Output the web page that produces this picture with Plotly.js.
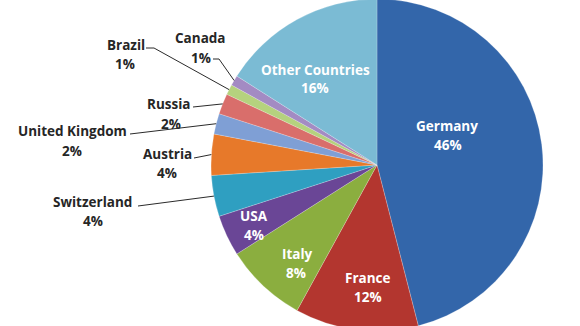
<!DOCTYPE html>
<html>
<head>
<meta charset="utf-8">
<script src="https://cdn.plot.ly/plotly-3.0.1.min.js"></script>
<style>
html,body{margin:0;padding:0;overflow:hidden;background:#fff;width:580px;height:326px;}
#chart{position:absolute;left:0;top:-1px;width:580px;height:332px;}
</style>
</head>
<body>
<div id="chart"></div>
<script>
// ---- data ----
const countries = ["Germany","France","Italy","USA","Switzerland","Austria","United Kingdom","Russia","Brazil","Canada","Other Countries"];
const shares = [46, 12, 8, 4, 4, 4, 2, 2, 1, 1, 16];
const sliceColors = ["#3366aa","#b3362f","#8bae3f","#6a4696","#2f9fc1","#e7792a","#7f9fd5","#d96e6b","#b5d27e","#a38bc3","#7bbbd4"];

// ---- layout helpers (page pixels -> paper) ----
const W = 580, H = 332, TOP = -1;
const CX = 377, CY = 165, R = 166;
const px = x => x / W;
const py = y => 1 - (y - TOP) / H;

// label placement (page px): name center, pct center, inside?
const labelPos = {
  "Germany":        {n:[447,126], p:[448,145], inside:true},
  "France":         {n:[368,278], p:[368,297], inside:true},
  "Italy":          {n:[297,254], p:[296,273], inside:true},
  "USA":            {n:[254,216], p:[254,235], inside:true},
  "Other Countries":{n:[315,70],  p:[315,88],  inside:true},
  "Switzerland":    {n:[93,202],  p:[93,221],  lead:[[138,206]]},
  "Austria":        {n:[167,154], p:[167,173], lead:[[194,158]]},
  "United Kingdom": {n:[72,131],  p:[72,151],  lead:[[130,134]]},
  "Russia":         {n:[168,104], p:[171,124], lead:[[193,107]]},
  "Brazil":         {n:[126,45],  p:[125,64],  lead:[[146,48],[154,48]]},
  "Canada":         {n:[200,38],  p:[201,58],  lead:[[213,59],[219,59]]}
};

const total = shares.reduce((a,b)=>a+b,0);
const annotations = [];
const shapes = [];
let cum = 0;
countries.forEach((c,i)=>{
  const mid = (cum + shares[i]/2) / total * 2*Math.PI;
  cum += shares[i];
  const lp = labelPos[c];
  const col = lp.inside ? "#ffffff" : "#262626";
  [[lp.n, c],[lp.p, shares[i] + "%"]].forEach(([pos,txt])=>{
    annotations.push({
      xref:"paper", yref:"paper", x:px(pos[0]), y:py(pos[1]),
      xanchor:"center", yanchor:"middle", showarrow:false,
      text:"<b>"+txt+"</b>",
      font:{family:"'Open Sans', sans-serif", size:13.5, color:col}
    });
  });
  if (lp.lead) {
    const ex = CX + R*Math.sin(mid), ey = CY - R*Math.cos(mid);
    const pts = lp.lead.concat([[ex,ey]]);
    const path = pts.map((p,k)=>(k?"L":"M")+px(p[0])+","+py(p[1])).join(" ");
    shapes.push({type:"path", xref:"paper", yref:"paper", path:path,
      line:{color:"#2b2b2b", width:1}});
  }
});

const trace = {
  type:"pie",
  labels: countries,
  values: shares,
  sort:false,
  direction:"clockwise",
  rotation:0,
  textinfo:"none",
  hoverinfo:"label+percent",
  marker:{colors:sliceColors, line:{color:"rgba(255,255,255,0.35)", width:0.6}},
  domain:{x:[(CX-R)/W,(CX+R)/W], y:[0,1]},
  showlegend:false
};

Plotly.newPlot("chart",[trace],{
  width:W, height:H,
  margin:{l:0,r:0,t:0,b:0},
  paper_bgcolor:"#ffffff",
  showlegend:false,
  annotations:annotations,
  shapes:shapes
},{staticPlot:true});
</script>
</body>
</html>
